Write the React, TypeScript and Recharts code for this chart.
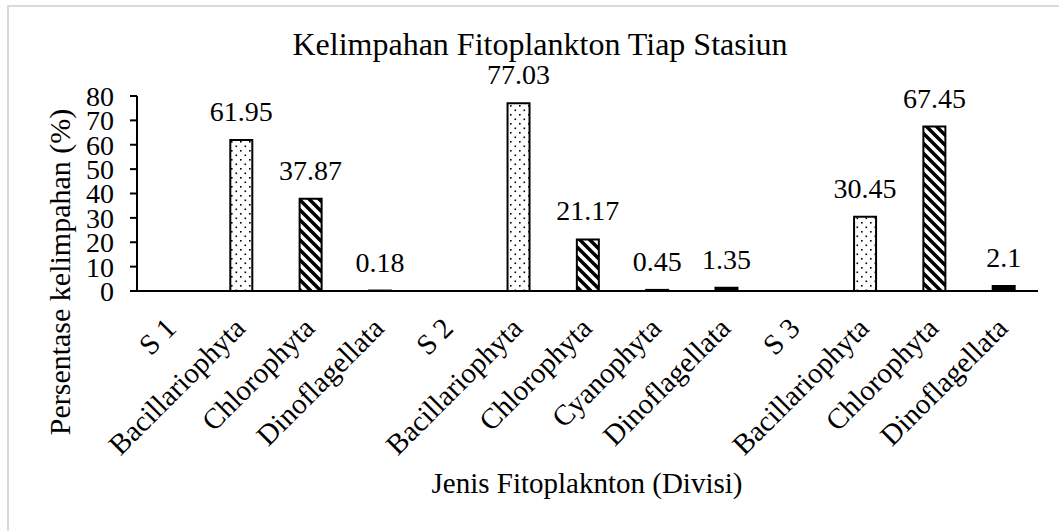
import React from "react";
import { BarChart, Bar, XAxis, YAxis, Cell, LabelList } from "recharts";

const categories = [
  "S 1", "Bacillariophyta", "Chlorophyta", "Dinoflagellata",
  "S 2", "Bacillariophyta", "Chlorophyta", "Cyanophyta", "Dinoflagellata",
  "S 3", "Bacillariophyta", "Chlorophyta", "Dinoflagellata",
];
const values: (number | null)[] = [
  null, 61.95, 37.87, 0.18,
  null, 77.03, 21.17, 0.45, 1.35,
  null, 30.45, 67.45, 2.1,
];
const yTicks = [0, 10, 20, 30, 40, 50, 60, 70, 80];

const chartTitle = "Kelimpahan Fitoplankton Tiap Stasiun";
const yTitle = "Persentase kelimpahan (%)";
const xTitle = "Jenis Fitoplaknton (Divisi)";

const patternFor: Record<string, string> = {
  Bacillariophyta: "url(#pDots)",
  Chlorophyta: "url(#pDiag)",
  Dinoflagellata: "url(#pDense)",
  Cyanophyta: "url(#pDense)",
};

const data = categories.map((c, i) => ({ id: `c${i}`, label: c, value: values[i] }));

const FONT = "Liberation Serif, Times New Roman, serif";
const fontStyle = { fontFamily: FONT };

const XTick = (props: any) => {
  const { x, y, index } = props;
  const tx = x + 6;
  const ty = y + 31;
  return (
    <text
      x={tx}
      y={ty}
      transform={`rotate(-45, ${tx}, ${ty})`}
      textAnchor="end"
      style={fontStyle}
      fontSize={29}
      fill="#000"
    >
      {categories[index]}
    </text>
  );
};

export default function App() {
  return (
    <div
      style={{
        position: "absolute",
        left: 0,
        top: 0,
        width: 1059,
        height: 531,
        overflow: "hidden",
        background: "#fff",
        fontFamily: FONT,
      }}
    >
      <BarChart
        width={1059}
        height={531}
        data={data}
        margin={{ top: 96, right: 21, bottom: 80, left: 77 }}
        barCategoryGap={0}
        style={fontStyle}
      >
        <defs>
          <pattern id="pDots" width="9" height="9" patternUnits="userSpaceOnUse">
            <rect width="9" height="9" fill="#fff" />
            <rect x="1.5" y="1.5" width="1.6" height="1.6" fill="#000" />
            <rect x="6" y="6" width="1.6" height="1.6" fill="#000" />
          </pattern>
          <pattern id="pDiag" width="10" height="10" patternUnits="userSpaceOnUse">
            <rect width="10" height="10" fill="#fff" />
            <path d="M0,0 L10,10 M-5,5 L5,15 M5,-5 L15,5" stroke="#000" strokeWidth="3.5" />
          </pattern>
          <pattern id="pDense" width="10" height="6" patternUnits="userSpaceOnUse">
            <rect width="10" height="6" fill="#000" />
            <rect x="4" y="2" width="2" height="2" fill="#fff" />
          </pattern>
        </defs>
        <XAxis
          dataKey="id"
          height={160}
          tickLine={false}
          axisLine={{ stroke: "#000", strokeWidth: 2 }}
          tick={<XTick />}
          interval={0}
        />
        <YAxis
          width={60}
          domain={[0, 80]}
          ticks={yTicks}
          interval={0}
          tickSize={7}
          tickMargin={16}
          axisLine={{ stroke: "#000", strokeWidth: 2 }}
          tickLine={{ stroke: "#000", strokeWidth: 2 }}
          tick={{ fontFamily: FONT, style: fontStyle, fontSize: 28, fill: "#000" }}
        />
        <Bar dataKey="value" barSize={22} stroke="#000" strokeWidth={2} isAnimationActive={false}>
          {data.map((d) => (
            <Cell key={d.id} fill={patternFor[d.label] || "#fff"} />
          ))}
          <LabelList
            dataKey="value"
            position="top"
            offset={19}
            fontFamily={FONT}
            style={fontStyle}
            fontSize={28}
            fill="#000"
            formatter={(v: any) => (v == null ? "" : String(v))}
          />
        </Bar>
      </BarChart>
      <svg
        width={1059}
        height={531}
        style={{ position: "absolute", left: 0, top: 0, pointerEvents: "none" }}
      >
        <path d="M8,531 L8,6 L1059,6" fill="none" stroke="#d9d9d9" strokeWidth={2} />
        <text x={540} y={55} textAnchor="middle" style={fontStyle} fontSize={32} fill="#000">
          {chartTitle}
        </text>
        <text
          x={70}
          y={272}
          transform="rotate(-90, 70, 272)"
          textAnchor="middle"
          style={fontStyle}
          fontSize={30}
          fill="#000"
        >
          {yTitle}
        </text>
        <text x={587} y={493} textAnchor="middle" style={fontStyle} fontSize={29} fill="#000">
          {xTitle}
        </text>
      </svg>
    </div>
  );
}
